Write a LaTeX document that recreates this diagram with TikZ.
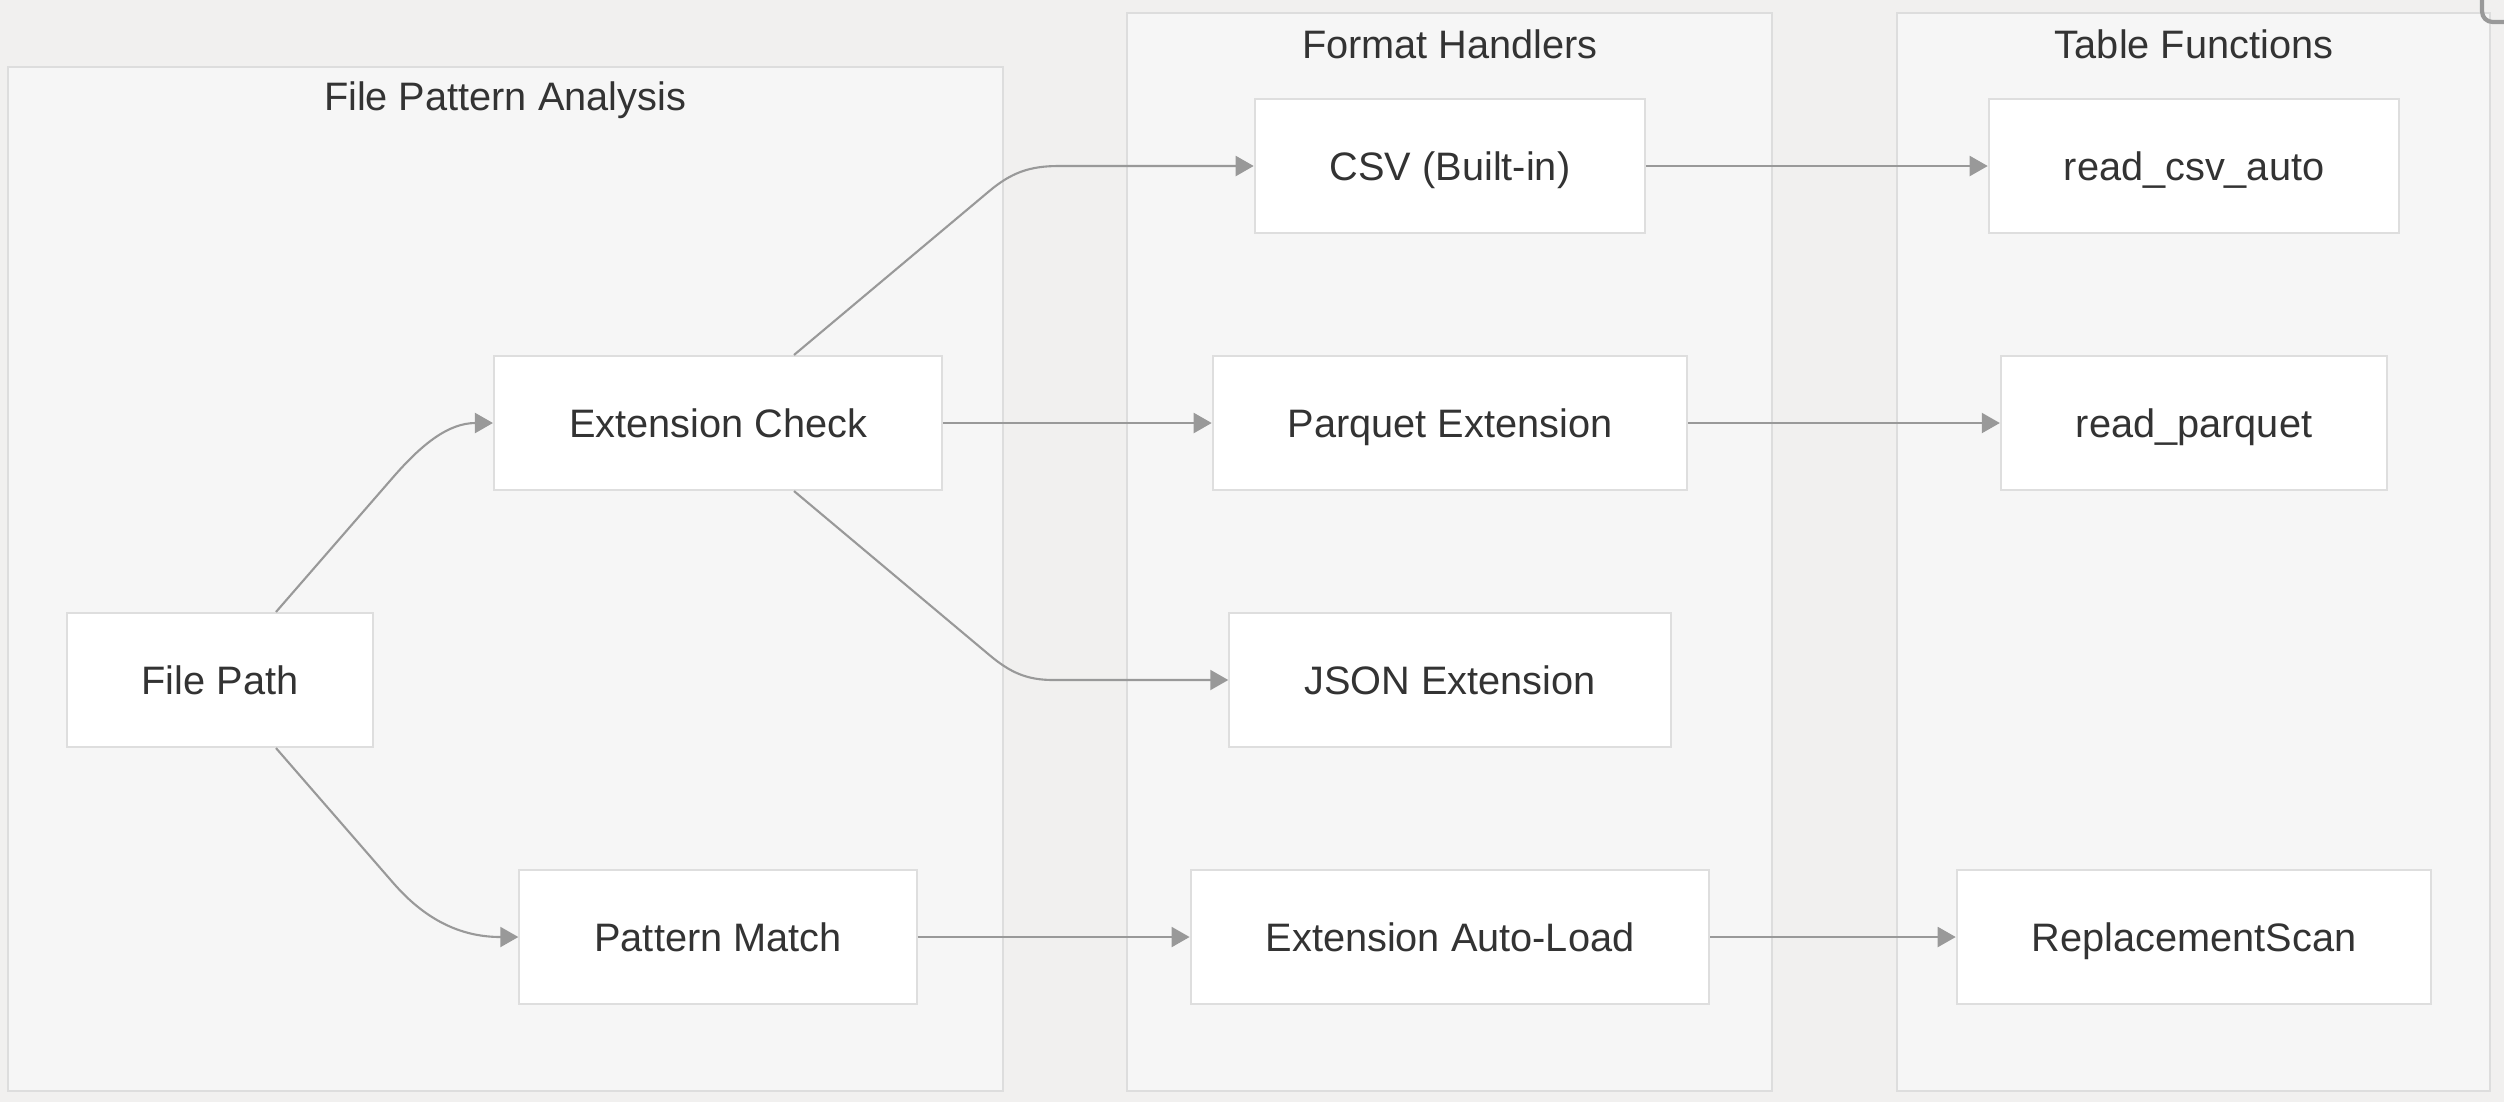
\documentclass[tikz,border=0pt]{standalone}
\usepackage{fontspec}
\setmainfont{Liberation Sans}
\usetikzlibrary{arrows.meta}
\definecolor{bg}{HTML}{F1F0EF}
\definecolor{grpfill}{HTML}{F6F6F6}
\definecolor{grpline}{HTML}{DDDDDD}
\definecolor{boxline}{HTML}{DEDEDE}
\definecolor{edge}{HTML}{999999}
\definecolor{txt}{HTML}{333333}
\begin{document}
\begin{tikzpicture}[
  font=\fontsize{11.3}{13}\selectfont, text=txt,
  group/.style={draw=grpline, fill=grpfill, line width=0.6pt},
  box/.style={draw=boxline, fill=white, line width=0.6pt,
              minimum height=1.34cm, inner xsep=0.75cm,
              text height=8.1pt, text depth=0pt},
  link/.style={draw=edge, line width=0.6pt,
               -{Triangle[length=0.18cm,width=0.2cm]}}
]
  \useasboundingbox [fill=bg] (0,0) rectangle (25.04,-11.02);
  % groups
  \draw [group] (0.08,-0.67) rectangle (10.03,-10.91);
  \draw [group] (11.27,-0.13) rectangle (17.72,-10.91);
  \draw [group] (18.97,-0.13) rectangle (24.90,-10.91);
  \node (fpa) at (5.05,-1.00) {File Pattern Analysis};
  \node (fh) at (14.50,-0.44) {Format Handlers};
  \node (tf) at (21.94,-0.44) {Table Functions};
  \draw [edge, line width=1.2pt, rounded corners=3pt] (24.82,0.3) rectangle (25.4,-0.22);
  % nodes
  \node [box] (path) at (2.20,-6.80) {File Path};
  \node [box] (check) at (7.18,-4.23) {Extension Check};
  \node [box] (match) at (7.18,-9.37) {Pattern Match};
  \node [box] (csv) at (14.50,-1.66) {CSV (Built-in)};
  \node [box] (parquet) at (14.50,-4.23) {Parquet Extension};
  \node [box] (json) at (14.50,-6.80) {JSON Extension};
  \node [box] (autoload) at (14.50,-9.37) {Extension Auto-Load};
  \node [box] (csvauto) at (21.94,-1.66) {read\_csv\_auto};
  \node [box] (readpq) at (21.94,-4.23) {read\_parquet};
  \node [box] (scan) at (21.94,-9.37) {ReplacementScan};
  % edges
  \draw [link] ([xshift=0.56cm]path.north) -- ++(49:1.79cm)
        to[out=49,in=180] (check.west);
  \draw [link] ([xshift=0.56cm]path.south) -- ++(-49:1.79cm)
        to[out=-49,in=180] (match.west);
  \draw [link] ([xshift=0.76cm]check.north) -- ++(40:2.55cm)
        to[out=40,in=180] ([xshift=-1.95cm]csv.west) -- (csv.west);
  \draw [link] (check) -- (parquet);
  \draw [link] ([xshift=0.76cm]check.south) -- ++(-40:2.55cm)
        to[out=-40,in=180] ([xshift=-1.75cm]json.west) -- (json.west);
  \draw [link] (match) -- (autoload);
  \draw [link] (csv) -- (csvauto);
  \draw [link] (parquet) -- (readpq);
  \draw [link] (autoload) -- (scan);
\end{tikzpicture}
\end{document}
